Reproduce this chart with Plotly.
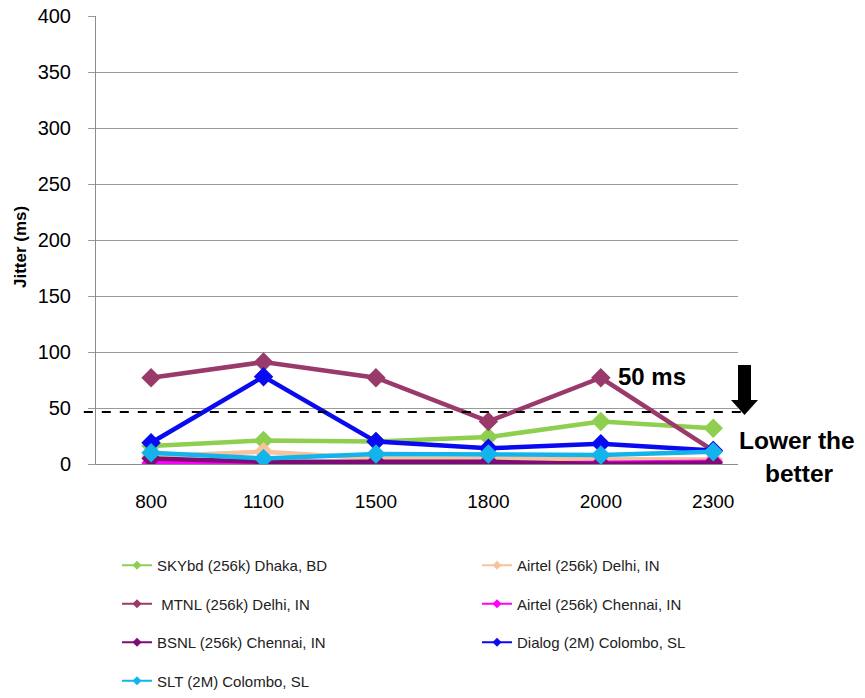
import plotly.graph_objects as go

categories = ["800", "1100", "1500", "1800", "2000", "2300"]
y_ticks = [0, 50, 100, 150, 200, 250, 300, 350, 400]

sky_bd = [16, 21, 20, 24, 38, 32]
airtel_delhi = [7, 11, 5, 5, 4, 4]
mtnl_delhi = [77, 91, 77, 38, 77, 12]
airtel_chennai = [1, 0, 0, 0, 1, 2]
bsnl_chennai = [5, 2, 2, 2, 0, 1]
dialog_colombo = [19, 78, 20, 14, 18, 12]
slt_colombo = [10, 5, 9, 9, 8, 11]

threshold = 46.5

series = [
    ("SKYbd (256k) Dhaka, BD", sky_bd, "#8FCF50", "legend"),
    ("Airtel (256k) Delhi, IN", airtel_delhi, "#F8C39A", "legend2"),
    (" MTNL (256k) Delhi, IN", mtnl_delhi, "#993A6A", "legend"),
    ("Airtel (256k) Chennai, IN", airtel_chennai, "#FF00FF", "legend2"),
    ("BSNL (256k) Chennai, IN", bsnl_chennai, "#7D0C74", "legend"),
    ("Dialog (2M) Colombo, SL", dialog_colombo, "#0A0AF0", "legend2"),
    ("SLT (2M) Colombo, SL", slt_colombo, "#13B4EC", "legend"),
]

x_idx = list(range(len(categories)))

fig = go.Figure()
for i, (name, vals, color, lg) in enumerate(series):
    fig.add_trace(go.Scatter(
        x=x_idx, y=vals, name=name, mode="lines+markers",
        line=dict(color=color, width=4.5),
        marker=dict(symbol="diamond", size=15, color=color),
        showlegend=False,
    ))
# legend entries (thin line + small marker, like the original)
for i, (name, vals, color, lg) in enumerate(series):
    fig.add_trace(go.Scatter(
        x=[None], y=[None], name=name, mode="lines+markers",
        line=dict(color=color, width=2),
        marker=dict(symbol="diamond", size=7, color=color),
        legend=lg, legendgroup=name, legendrank=i, showlegend=True,
    ))

# threshold dashed line
fig.add_shape(type="line", xref="paper", yref="y",
              x0=-0.019, x1=1.012, y0=threshold, y1=threshold,
              line=dict(color="black", width=2, dash="dash"))

# positions below are page pixels relative to the plot area (96..738, 16..464)
W, H = 642.0, 448.0
def px(x):
    return (x - 96) / W
def py(y):
    return (464 - y) / H
fig.add_shape(type="rect", xref="paper", yref="paper",
              x0=px(738), x1=px(751), y0=py(402), y1=py(365),
              fillcolor="black", line=dict(width=0))
fig.add_shape(type="path", xref="paper", yref="paper",
              path=f"M {px(731)} {py(400)} L {px(758)} {py(400)} L {px(744.5)} {py(415)} Z",
              fillcolor="black", line=dict(width=0))

fig.add_annotation(xref="paper", yref="paper", x=px(652), y=py(376),
                   xanchor="center", yanchor="middle",
                   text="<b>50 ms</b>", showarrow=False,
                   font=dict(family="Liberation Sans, Arial", size=24, color="black"))
fig.add_annotation(xref="paper", yref="paper", x=px(797), y=py(440),
                   xanchor="center", yanchor="middle",
                   text="<b>Lower the</b>", showarrow=False,
                   font=dict(family="Liberation Sans, Arial", size=24.5, color="black"))
fig.add_annotation(xref="paper", yref="paper", x=px(800), y=py(473),
                   xanchor="center", yanchor="middle",
                   text="<b>better</b>", showarrow=False,
                   font=dict(family="Liberation Sans, Arial", size=24.5, color="black"))
# y axis title
fig.add_annotation(xref="paper", yref="paper", x=px(20), y=py(247),
                   xanchor="center", yanchor="middle",
                   text="<b>Jitter (ms)</b>", showarrow=False, textangle=-90,
                   font=dict(family="Liberation Sans, Arial", size=17, color="black"))

legend_font = dict(family="Liberation Sans, Arial", size=15, color="#222222")
fig.update_layout(
    width=865, height=698,
    margin=dict(l=96, r=127, t=16, b=234, autoexpand=False),
    paper_bgcolor="white", plot_bgcolor="white",
    font=dict(family="Liberation Sans, Arial", color="black"),
    xaxis=dict(
        tickmode="array", tickvals=x_idx, ticktext=categories,
        range=[-0.49, 5.22], showgrid=False, zeroline=False,
        showline=True, linecolor="#8c8c8c", linewidth=1,
        ticks="", tickfont=dict(size=19, color="black"),
        ticklabelstandoff=20, automargin=False,
    ),
    yaxis=dict(
        range=[0, 400], tickvals=y_ticks,
        showgrid=True, gridcolor="#9a9a9a", gridwidth=1,
        zeroline=False, showline=True, linecolor="#8c8c8c", linewidth=1,
        ticks="outside", ticklen=7, tickcolor="#9a9a9a",
        tickfont=dict(size=20, color="black"),
        ticklabelstandoff=13, automargin=False,
        ticklabeloverflow="allow",
    ),
    legend=dict(x=px(117), y=py(549), xanchor="left", yanchor="top",
                orientation="v", traceorder="grouped", tracegroupgap=16,
                font=legend_font, bgcolor="rgba(0,0,0,0)"),
    legend2=dict(x=px(477), y=py(549), xanchor="left", yanchor="top",
                 orientation="v", traceorder="grouped", tracegroupgap=16,
                 font=legend_font, bgcolor="rgba(0,0,0,0)"),
)

fig.write_html("out.html",
               config={"displayModeBar": False},
               post_script="document.body.style.margin='0';document.body.style.overflow='hidden';")
